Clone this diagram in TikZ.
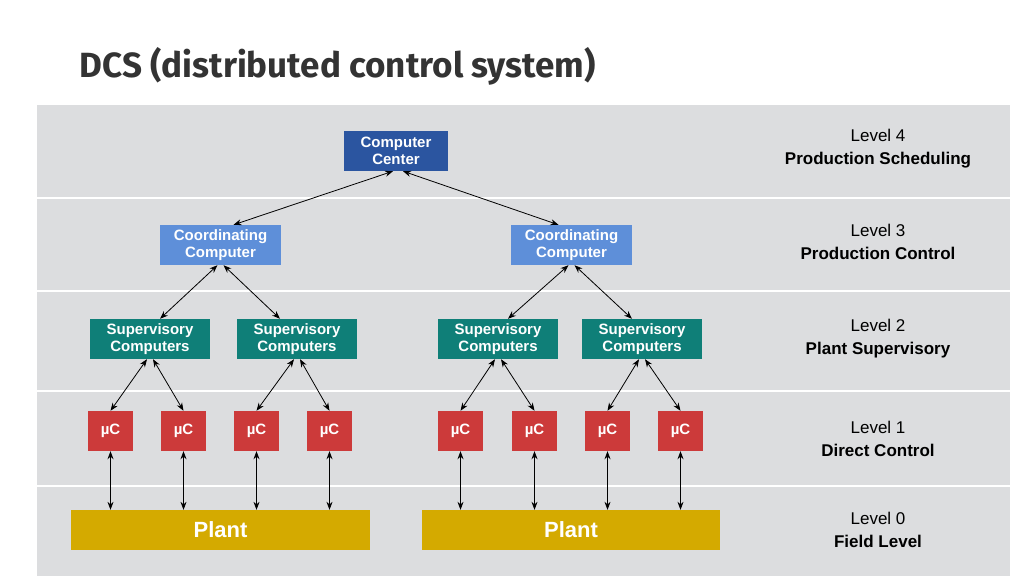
\documentclass[tikz,border=0pt]{standalone}
\usepackage{fontspec}
\setmainfont{Liberation Sans}
\newfontfamily\titlefont{Fira Sans}
\usetikzlibrary{arrows.meta}
\definecolor{panel}{HTML}{DCDDDF}
\definecolor{ccblue}{HTML}{2B55A0}
\definecolor{coblue}{HTML}{5E8FD9}
\definecolor{supteal}{HTML}{0F7F78}
\definecolor{mured}{HTML}{CC3A3A}
\definecolor{plantgold}{HTML}{D4AA00}
\tikzset{
  box/.style={draw=none, text=white, font=\bfseries\fontsize{15}{17}\selectfont, align=center, minimum height=40pt, inner sep=0pt},
  link/.style={black, line width=0.8pt, {Stealth[length=8pt,width=6pt]}-{Stealth[length=8pt,width=6pt]}},
  lvl/.style={align=center, font=\fontsize{17}{23}\selectfont}
}
\begin{document}
\begin{tikzpicture}[x=1pt, y=-1pt]
\useasboundingbox (0,0) rectangle (1024,576);
\fill[white] (0,0) rectangle (1024,576);
\fill[panel] (37,105) rectangle (1010,576);
\draw[white, line width=2pt] (37,198) -- (1010,198);
\draw[white, line width=2pt] (37,291) -- (1010,291);
\draw[white, line width=2pt] (37,391) -- (1010,391);
\draw[white, line width=2pt] (37,486) -- (1010,486);
\node[anchor=west, text=black!80, font=\titlefont\bfseries\fontsize{35}{40}\selectfont] (title) at (76,66) {DCS (distributed control system)};
% level 4 and 3
\node[box, fill=ccblue, minimum width=104pt] (cc) at (396,151) {Computer\\Center};
\node[box, fill=coblue, minimum width=121pt] (coL) at (220.5,245) {Coordinating\\Computer};
\node[box, fill=coblue, minimum width=121pt] (coR) at (571.5,245) {Coordinating\\Computer};
% level 2
\node[box, fill=supteal, minimum width=120pt] (supA) at (150,339) {Supervisory\\Computers};
\node[box, fill=supteal, minimum width=120pt] (supB) at (297,339) {Supervisory\\Computers};
\node[box, fill=supteal, minimum width=120pt] (supC) at (498,339) {Supervisory\\Computers};
\node[box, fill=supteal, minimum width=120pt] (supD) at (642,339) {Supervisory\\Computers};
% level 1
\foreach \name/\x in {muA/110.5, muB/183.5, muC/256.5, muD/329.5, muE/460.5, muF/534.5, muG/607.5, muH/680.5}
  \node[box, fill=mured, minimum width=45pt] (\name) at (\x,431) {µC};
% level 0
\node[box, fill=plantgold, minimum width=299pt, font=\bfseries\fontsize{22}{24}\selectfont] (plantL) at (220.5,530) {Plant};
\node[box, fill=plantgold, minimum width=298pt, font=\bfseries\fontsize{22}{24}\selectfont] (plantR) at (571,530) {Plant};
% connectors
\draw[link] ([xshift=-3pt]cc.south) -- ([xshift=13pt]coL.north);
\draw[link] ([xshift=7pt]cc.south) -- ([xshift=-13pt]coR.north);
\draw[link] ([xshift=-3pt]coL.south) -- ([xshift=10pt]supA.north);
\draw[link] ([xshift=3pt]coL.south) -- ([xshift=-17pt]supB.north);
\draw[link] ([xshift=-3pt]coR.south) -- ([xshift=10pt]supC.north);
\draw[link] ([xshift=3pt]coR.south) -- ([xshift=-10pt]supD.north);
\draw[link] ([xshift=-3pt]supA.south) -- (muA.north);
\draw[link] ([xshift=3pt]supA.south) -- (muB.north);
\draw[link] ([xshift=-3pt]supB.south) -- (muC.north);
\draw[link] ([xshift=3pt]supB.south) -- (muD.north);
\draw[link] ([xshift=-3pt]supC.south) -- (muE.north);
\draw[link] ([xshift=3pt]supC.south) -- (muF.north);
\draw[link] ([xshift=-3pt]supD.south) -- (muG.north);
\draw[link] ([xshift=3pt]supD.south) -- (muH.north);
\foreach \name/\plant in {muA/plantL, muB/plantL, muC/plantL, muD/plantL, muE/plantR, muF/plantR, muG/plantR, muH/plantR}
  \draw[link] (\name.south) -- (\name.south |- \plant.north);
% level labels
\node[lvl] (lv4) at (878,149) {Level 4\\\textbf{Production Scheduling}};
\node[lvl] (lv3) at (878,242) {Level 3\\\textbf{Production Control}};
\node[lvl] (lv2) at (878,339) {Level 2\\\textbf{Plant Supervisory}};
\node[lvl] (lv1) at (878,439) {Level 1\\\textbf{Direct Control}};
\node[lvl] (lv0) at (878,530) {Level 0\\\textbf{Field Level}};
\end{tikzpicture}
\end{document}
